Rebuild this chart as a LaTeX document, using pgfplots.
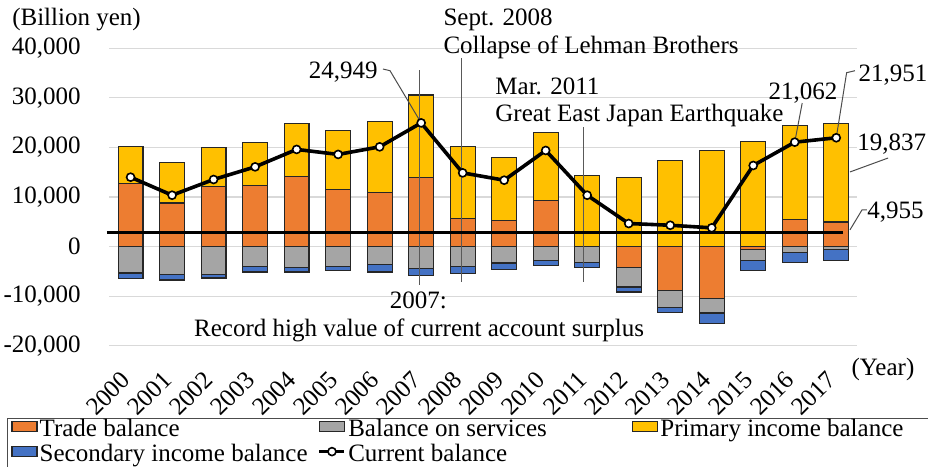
\documentclass[border=0pt]{standalone}
\usepackage{fontspec}
\setmainfont{Liberation Serif}
\usepackage{pgfplots}
\usepackage{pgfplotstable}
\pgfplotsset{compat=1.18}
\definecolor{torange}{HTML}{ED7D31}
\definecolor{tgray}{HTML}{A5A5A5}
\definecolor{tyellow}{HTML}{FFC000}
\definecolor{tblue}{HTML}{4472C4}
\definecolor{bord}{HTML}{262626}
\pgfplotsset{
  barlegend/.style={legend image code/.code={\draw[##1,line width=0.6pt] (0pt,-0.3pt) rectangle (12.5pt,4.7pt);}},
  linelegend/.style={legend image code/.code={\draw[mark repeat=2,mark phase=2,##1] plot coordinates {(0pt,2.2pt) (6.25pt,2.2pt) (12.5pt,2.2pt)};}},
  common/.style={scale only axis, width=374pt, height=148.7pt, xmin=-0.52, xmax=17.5, ymin=-20000, ymax=40000, scaled y ticks=false},
}
\pgfplotstableread{
x year trade services primary secondary current
0 2000 12650 -5330 7610 -1140 14000
1 2001 8810 -5660 8080 -1080 10360
2 2002 12040 -5660 7880 -680 13530
3 2003 12320 -4040 8610 -1090 16080
4 2004 14200 -4180 10570 -950 19600
5 2005 11520 -3980 11910 -870 18590
6 2006 10830 -3640 14480 -1490 20120
7 2007 13860 -4440 16700 -1420 24949
8 2008 5660 -3980 14460 -1470 14870
9 2009 5250 -3310 12790 -1340 13390
10 2010 9350 -2770 13740 -1070 19390
11 2011 0 -3250 14400 -1050 10360
12 2012 -4300 -3850 14000 -1000 4650
13 2013 -8790 -3500 17430 -970 4300
14 2014 -10465 -2950 19390 -2150 3780
15 2015 -630 -2200 21270 -1970 16360
16 2016 5518 -1130 18858 -2141 21062
17 2017 4955 -660 19837 -2181 21951
}\datatable
\begin{document}
\fontsize{12.5}{15}\selectfont
\begin{tikzpicture}
\begin{axis}[common, name=ax, ybar stacked, bar width=0.6,
  axis line style={draw=none}, tick style={draw=none},
  ymajorgrids, grid style={draw=black!15, line width=0.6pt},
  ytick={-20000,-10000,0,10000,20000,30000,40000},
  yticklabels={{-20,000},{-10,000},0,{10,000},{20,000},{30,000},{40,000}},
  yticklabel style={inner xsep=0pt, xshift=-14pt},
  xtick={0,1,2,3,4,5,6,7,8,9,10,11,12,13,14,15,16,17},
  xticklabels={2000,2001,2002,2003,2004,2005,2006,2007,2008,2009,2010,2011,2012,2013,2014,2015,2016,2017},
  xticklabel style={xshift=-5.4pt, yshift=-11.8pt, rotate=45, anchor=north east, inner sep=0pt},
]
\addplot[fill=torange, draw=bord, line width=0.6pt] table[x=x, y expr={max(\thisrow{trade},0)}]{\datatable};
\addplot[fill=tyellow, draw=bord, line width=0.6pt] table[x=x, y=primary]{\datatable};
\end{axis}
\begin{axis}[common, hide axis, ybar stacked, bar width=0.6]
\addplot[fill=torange, draw=bord, line width=0.6pt] table[x=x, y expr={min(\thisrow{trade},0)}]{\datatable};
\addplot[fill=tgray, draw=bord, line width=0.6pt] table[x=x, y=services]{\datatable};
\addplot[fill=tblue, draw=bord, line width=0.6pt] table[x=x, y=secondary]{\datatable};
\end{axis}
\begin{axis}[common, hide axis, clip=false,
  legend columns=3, legend cell align=left,
  legend style={at={(-0.1364,-0.2431)}, anchor=north west, draw=black!70, line width=0.5pt,
    inner xsep=2pt, inner ysep=0pt, row sep=0pt, column sep=0pt,
    nodes={inner xsep=1pt, inner ysep=0.25pt, text height=8.8pt, text depth=3.2pt}},
]
\draw[black!65, line width=0.5pt] (axis cs:6.95,35620) -- (axis cs:6.95,-7750);
\draw[black!65, line width=0.5pt] (axis cs:7.98,38040) -- (axis cs:7.98,-7140);
\draw[black!65, line width=0.5pt] (axis cs:10.92,24120) -- (axis cs:10.92,-7080);
\addplot[forget plot, black, line width=1.5pt] coordinates {(-0.57,2900) (17.16,2900)};
\addplot[forget plot, black, line width=1.8pt, mark=*, mark size=2pt, mark options={fill=white, draw=black, line width=0.8pt}] table[x=x, y=current]{\datatable};
\draw[black!70, line width=0.5pt] (axis cs:6.08,35820) -- (axis cs:6.25,35480) -- (axis cs:7,24949);
\draw[black!70, line width=0.5pt] (axis cs:16.18,28960) -- (axis cs:16,21062);
\draw[black!70, line width=0.5pt] (axis cs:17,21951) -- (axis cs:17.25,35080) -- (axis cs:17.45,35480);
\draw[black!70, line width=0.5pt] (axis cs:17.33,15050) -- (axis cs:18.25,17870);
\draw[black!70, line width=0.5pt] (axis cs:17.33,3360) -- (axis cs:17.62,7390) -- (axis cs:17.74,7390);
\begin{scope}[every node/.style={inner sep=0pt}]
\node[anchor=base east] at (axis cs:5.96,33950) {24,949};
\node[anchor=base west] at (axis cs:7.53,44500) {Sept. 2008};
\node[anchor=base west] at (axis cs:7.53,38990) {Collapse of Lehman Brothers};
\node[anchor=base west] at (axis cs:8.78,30780) {Mar. 2011};
\node[anchor=base west] at (axis cs:8.78,25190) {Great East Japan Earthquake};
\node[anchor=base] at (axis cs:16.20,29570) {21,062};
\node[anchor=base west] at (axis cs:17.53,33260) {21,951};
\node[anchor=base west] at (axis cs:17.50,19340) {19,837};
\node[anchor=base west] at (axis cs:17.74,5700) {4,955};
\node[anchor=base] at (axis cs:6.93,-12450) {2007:};
\node[anchor=base] at (axis cs:6.95,-18180) {Record high value of current account surplus};
\node[anchor=base west] at (axis cs:17.36,-25910) {(Year)};
\node[anchor=base west] at (axis cs:-2.86,44700) {(Billion yen)};
\end{scope}
\addlegendimage{barlegend, fill=torange, draw=bord}
\addlegendentry{\makebox[138pt][l]{Trade balance}}
\addlegendimage{barlegend, fill=tgray, draw=bord}
\addlegendentry{\makebox[141pt][l]{Balance on services}}
\addlegendimage{barlegend, fill=tyellow, draw=bord}
\addlegendentry{\makebox[145pt][l]{Primary income balance}}
\addlegendimage{barlegend, fill=tblue, draw=bord}
\addlegendentry{\makebox[138pt][l]{Secondary income balance}}
\addlegendimage{linelegend, black, line width=1.8pt, mark=*, mark size=2pt, mark options={fill=white, draw=black, line width=0.8pt}}
\addlegendentry{\makebox[141pt][l]{Current balance}}
\end{axis}
\pgfresetboundingbox
\path ([xshift=-54.5pt,yshift=-60.15pt]ax.south west) rectangle ([xshift=35.5pt,yshift=24.15pt]ax.north east);
\end{tikzpicture}
\end{document}
